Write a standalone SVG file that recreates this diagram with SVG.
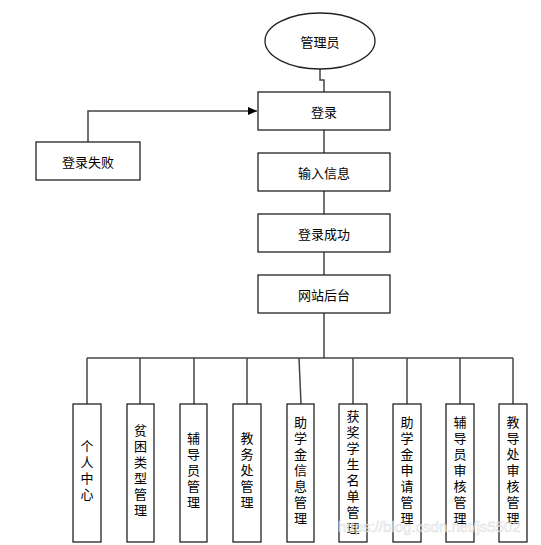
<svg xmlns="http://www.w3.org/2000/svg" width="541" height="545" viewBox="0 0 541 545">
<style>
.box{fill:#fff;stroke:#222;stroke-width:1.3}
.ln{fill:none;stroke:#444;stroke-width:1.5}
.t{font-family:"Noto Sans CJK SC","Liberation Sans",sans-serif;font-size:13px;fill:#000;text-anchor:middle;dominant-baseline:central}
.v{font-family:"Noto Sans CJK SC","Liberation Sans",sans-serif;font-size:13px;fill:#000;text-anchor:middle;writing-mode:vertical-rl;text-orientation:upright;letter-spacing:3px}
.wm{font-family:"Liberation Sans",sans-serif;font-size:15px;fill:#f4f4f4;stroke:#d8d8d8;stroke-width:0.5;opacity:0.8}
</style>
<defs>
<marker id="arr" markerWidth="10" markerHeight="10" refX="9" refY="5" orient="auto" markerUnits="userSpaceOnUse">
<path d="M0,1 L9,5 L0,9 Z" fill="#000"/>
</marker>
</defs>
<rect width="541" height="545" fill="#fff"/>
<g id="connectors">
<path class="ln" d="M320,69 V80 H324 V92"/>
<path class="ln" d="M88,142 V111 H257" stroke="#000" marker-end="url(#arr)"/>
<path class="ln" d="M324,130 V153"/>
<path class="ln" d="M324,191 V214"/>
<path class="ln" d="M324,252 V275"/>
<path class="ln" d="M324,313 V358"/>
<path class="ln" d="M87,358 H513"/>
<path class="ln" d="M87,358 V404"/>
<path class="ln" d="M140,358 V404"/>
<path class="ln" d="M194,358 V404"/>
<path class="ln" d="M247,358 V404"/>
<path class="ln" d="M299,358 L301,404"/>
<path class="ln" d="M353,358 V404"/>
<path class="ln" d="M407,358 V404"/>
<path class="ln" d="M460,358 V404"/>
<path class="ln" d="M513,358 V404"/>
</g>
<g id="n-admin"><ellipse class="box" cx="320" cy="41" rx="55" ry="28"/><text class="t" x="320" y="41">管理员</text></g>
<g id="n-login"><rect class="box" x="258" y="92" width="132" height="38"/><text class="t" x="324" y="111">登录</text></g>
<g id="n-fail"><rect class="box" x="36" y="142" width="104" height="38"/><text class="t" x="88" y="161">登录失败</text></g>
<g id="n-input"><rect class="box" x="258" y="153" width="132" height="38"/><text class="t" x="324" y="172">输入信息</text></g>
<g id="n-success"><rect class="box" x="258" y="214" width="132" height="38"/><text class="t" x="324" y="233">登录成功</text></g>
<g id="n-backend"><rect class="box" x="258" y="275" width="132" height="38"/><text class="t" x="324" y="294">网站后台</text></g>
<g id="n-m1"><rect class="box" x="73" y="404" width="28" height="138"/><text class="v" x="87" y="472">个人中心</text></g>
<g id="n-m2"><rect class="box" x="127" y="404" width="27" height="138"/><text class="v" x="140.5" y="472">贫困类型管理</text></g>
<g id="n-m3"><rect class="box" x="180" y="404" width="27" height="138"/><text class="v" x="193.5" y="472">辅导员管理</text></g>
<g id="n-m4"><rect class="box" x="233" y="404" width="28" height="138"/><text class="v" x="247" y="472">教务处管理</text></g>
<g id="n-m5"><rect class="box" x="287" y="404" width="27" height="138"/><text class="v" x="300.5" y="472">助学金信息管理</text></g>
<g id="n-m6"><rect class="box" x="339" y="404" width="28" height="138"/><text class="v" x="353" y="474">获奖学生名单管理</text></g>
<g id="n-m7"><rect class="box" x="393" y="404" width="28" height="138"/><text class="v" x="407" y="472">助学金申请管理</text></g>
<g id="n-m8"><rect class="box" x="446" y="404" width="28" height="138"/><text class="v" x="460" y="472">辅导员审核管理</text></g>
<g id="n-m9"><rect class="box" x="499" y="404" width="28" height="138"/><text class="v" x="513" y="472">教导处审核管理</text></g>
<text class="wm" x="338" y="532">https://blog.csdn.net/js5502</text>
</svg>
